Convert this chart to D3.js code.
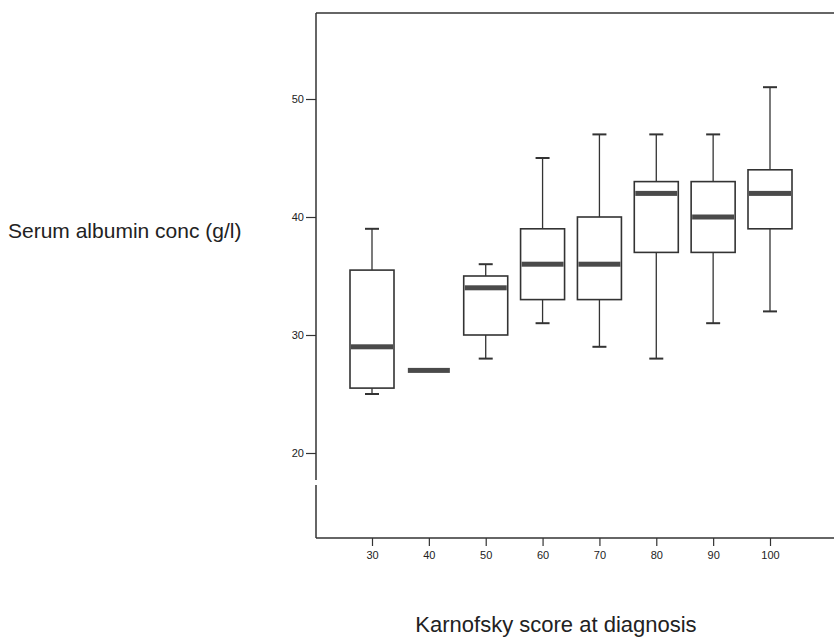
<!DOCTYPE html>
<html>
<head>
<meta charset="utf-8">
<script src="https://cdn.jsdelivr.net/npm/d3@7"></script>
<style>
  body { margin: 0; background: #fff; }
  svg { display: block; font-family: "Liberation Sans", Arial, sans-serif; }
</style>
</head>
<body>
<div id="chart"></div>
<script>
// Data
const scores = ["30", "40", "50", "60", "70", "80", "90", "100"];
const whiskerLow = [25, 27, 28, 31, 29, 28, 31, 32];
const q1 = [25.5, 27, 30, 33, 33, 37, 37, 39];
const median = [29, 27, 34, 36, 36, 42, 40, 42];
const q3 = [35.5, 27, 35, 39, 40, 43, 43, 44];
const whiskerHigh = [39, 27, 36, 45, 47, 47, 47, 51];
const yTicks = [20, 30, 40, 50];

const width = 834;
const height = 637;
const frame = { left: 316, top: 13, bottom: 538, right: 834 };

const svg = d3.select("#chart").append("svg")
  .attr("width", width)
  .attr("height", height);

// scales
const x = d3.scalePoint()
  .domain(scores)
  .range([372, 770]);

const y = d3.scaleLinear()
  .domain([50, 20])
  .range([99, 453]);

const boxW = 44;
const capW = 14;

// frame: top line
svg.append("line")
  .attr("x1", frame.left).attr("x2", frame.right)
  .attr("y1", frame.top).attr("y2", frame.top)
  .attr("stroke", "#333").attr("stroke-width", 1.5);

// Y axis (with the small break near the bottom)
const yAxis = svg.append("g")
  .attr("transform", `translate(${frame.left},0)`)
  .call(d3.axisLeft(y).tickValues(yTicks).tickSize(10).tickPadding(2))
  .call((g) => g.select(".domain").remove());
yAxis.selectAll("line").attr("stroke", "#333").attr("stroke-width", 1.2);
yAxis.selectAll("text").attr("font-size", 11).attr("fill", "#222");

svg.append("line")
  .attr("x1", frame.left).attr("x2", frame.left)
  .attr("y1", frame.top).attr("y2", 480)
  .attr("stroke", "#333").attr("stroke-width", 1.5);
svg.append("line")
  .attr("x1", frame.left).attr("x2", frame.left)
  .attr("y1", 485).attr("y2", frame.bottom)
  .attr("stroke", "#333").attr("stroke-width", 1.5);

// X axis
const xAxis = svg.append("g")
  .attr("transform", `translate(0,${frame.bottom})`)
  .call(d3.axisBottom(x).tickSize(8).tickPadding(5))
  .call((g) => g.select(".domain").remove());
xAxis.selectAll("line").attr("stroke", "#333").attr("stroke-width", 1.2);
xAxis.selectAll("text").attr("font-size", 11).attr("fill", "#222");

svg.append("line")
  .attr("x1", frame.left).attr("x2", frame.right)
  .attr("y1", frame.bottom).attr("y2", frame.bottom)
  .attr("stroke", "#333").attr("stroke-width", 1.5);

// boxes
const boxes = svg.append("g").selectAll("g")
  .data(scores)
  .join("g");

boxes.append("line")
  .attr("x1", (d) => x(d)).attr("x2", (d) => x(d))
  .attr("y1", (d, i) => y(whiskerHigh[i])).attr("y2", (d, i) => y(q3[i]))
  .attr("stroke", "#333").attr("stroke-width", 1.3);
boxes.append("line")
  .attr("x1", (d) => x(d)).attr("x2", (d) => x(d))
  .attr("y1", (d, i) => y(q1[i])).attr("y2", (d, i) => y(whiskerLow[i]))
  .attr("stroke", "#333").attr("stroke-width", 1.3);

boxes.filter((d, i) => whiskerHigh[i] > q3[i]).append("line")
  .attr("x1", (d) => x(d) - capW / 2).attr("x2", (d) => x(d) + capW / 2)
  .attr("y1", (d) => y(whiskerHigh[scores.indexOf(d)]))
  .attr("y2", (d) => y(whiskerHigh[scores.indexOf(d)]))
  .attr("stroke", "#333").attr("stroke-width", 2);
boxes.filter((d, i) => whiskerLow[i] < q1[i]).append("line")
  .attr("x1", (d) => x(d) - capW / 2).attr("x2", (d) => x(d) + capW / 2)
  .attr("y1", (d) => y(whiskerLow[scores.indexOf(d)]))
  .attr("y2", (d) => y(whiskerLow[scores.indexOf(d)]))
  .attr("stroke", "#333").attr("stroke-width", 2);

boxes.filter((d, i) => q3[i] > q1[i]).append("rect")
  .attr("x", (d) => x(d) - boxW / 2)
  .attr("width", boxW)
  .attr("y", (d) => y(q3[scores.indexOf(d)]))
  .attr("height", (d) => y(q1[scores.indexOf(d)]) - y(q3[scores.indexOf(d)]))
  .attr("fill", "#fff")
  .attr("stroke", "#333")
  .attr("stroke-width", 1.6);

// median band
boxes.append("rect")
  .attr("x", (d) => x(d) - boxW / 2 + 1)
  .attr("width", boxW - 2)
  .attr("y", (d, i) => y(median[i]) - 2.5)
  .attr("height", 5)
  .attr("fill", "#4a4a4a");

// labels
svg.append("text")
  .attr("x", 8)
  .attr("y", 238)
  .attr("font-size", 21)
  .attr("fill", "#222")
  .text("Serum albumin conc (g/l)");

svg.append("text")
  .attr("x", 556)
  .attr("y", 632)
  .attr("text-anchor", "middle")
  .attr("font-size", 22)
  .attr("fill", "#222")
  .text("Karnofsky score at diagnosis");
</script>
</body>
</html>
